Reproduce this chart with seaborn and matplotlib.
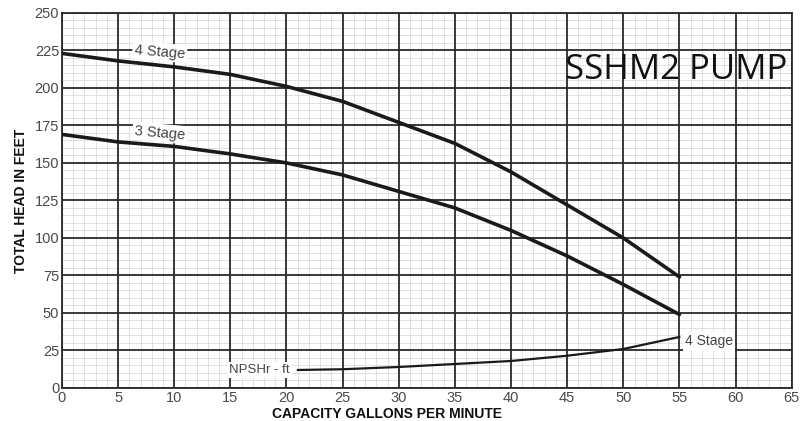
import pandas as pd
import matplotlib.pyplot as plt
import seaborn as sns
from matplotlib.ticker import MultipleLocator

# --- data ---
gpm = [0, 5, 10, 15, 20, 25, 30, 35, 40, 45, 50, 55]
head_4stage = [223, 218, 214, 209, 201, 191, 177, 163, 144, 122, 100, 74]
head_3stage = [169, 164, 161, 156, 150, 142, 131, 120, 105, 88, 69, 49]

npsh_gpm = [21, 25, 30, 35, 40, 45, 50, 55]
npsh_ft = [12, 12.5, 14, 16, 18, 21.5, 26, 34]

x_ticks = list(range(0, 66, 5))
y_ticks = list(range(0, 251, 25))

df = pd.concat([
    pd.DataFrame({'gpm': gpm, 'head': head_4stage, 'curve': '4 Stage'}),
    pd.DataFrame({'gpm': gpm, 'head': head_3stage, 'curve': '3 Stage'}),
])
npsh = pd.DataFrame({'gpm': npsh_gpm, 'ft': npsh_ft})

sns.set_style('white')
plt.rcParams['font.family'] = ['Liberation Sans', 'DejaVu Sans']

fig = plt.figure(figsize=(8.09, 4.21), dpi=100)
ax = fig.add_axes([0.0766, 0.0784, 0.902, 0.891])

sns.lineplot(data=df, x='gpm', y='head', units='curve', estimator=None,
             color='#1a1a1a', lw=2.6, ax=ax, zorder=5)
sns.lineplot(data=npsh, x='gpm', y='ft', color='#1a1a1a', lw=1.6, ax=ax, zorder=5)

ax.set_xlim(0, 65)
ax.set_ylim(0, 250)
ax.set_xticks(x_ticks)
ax.set_yticks(y_ticks)
ax.xaxis.set_minor_locator(MultipleLocator(1))
ax.yaxis.set_minor_locator(MultipleLocator(5))
ax.set_axisbelow(True)
ax.grid(which='minor', color='#d4d4d4', lw=0.5)
# heavy grid drawn separately so the fine one can't cut through it
ax.vlines(x_ticks, 0, 250, color='#2a2a2a', lw=1.3, zorder=2)
ax.hlines(y_ticks, 0, 65, color='#2a2a2a', lw=1.3, zorder=2)
for s in ax.spines.values():
    s.set_color('#2a2a2a')
    s.set_linewidth(1.3)

ax.tick_params(axis='both', which='both', length=0, labelsize=10.5,
               labelcolor='#4a4a4a', pad=2)
ax.set_xlabel('CAPACITY GALLONS PER MINUTE', fontsize=10, fontweight='bold',
              color='#111111')
ax.xaxis.set_label_coords(0.445, -0.05)
ax.set_ylabel('TOTAL HEAD IN FEET', fontsize=10, fontweight='bold',
              color='#111111', labelpad=5)

box = dict(facecolor='white', edgecolor='none', pad=1.5)
ax.text(8.7, 224, '4 Stage', fontsize=10.5, color='#444444', rotation=-5,
        ha='center', va='center', bbox=box, zorder=6)
ax.text(8.7, 170, '3 Stage', fontsize=10.5, color='#444444', rotation=-5,
        ha='center', va='center', bbox=box, zorder=6)
ax.text(20.3, 12, 'NPSHr - ft', fontsize=9.5, color='#444444',
        ha='right', va='center', bbox=box, zorder=6)
ax.text(55.5, 31, '4 Stage', fontsize=10, color='#444444',
        ha='left', va='center', bbox=box, zorder=6)

ax.text(64.6, 212, 'SSHM2 PUMP', fontsize=25, color='#111111',
        family=['Open Sans', 'DejaVu Sans'], ha='right', va='center', zorder=6)

fig.savefig('out.png', dpi=100)
